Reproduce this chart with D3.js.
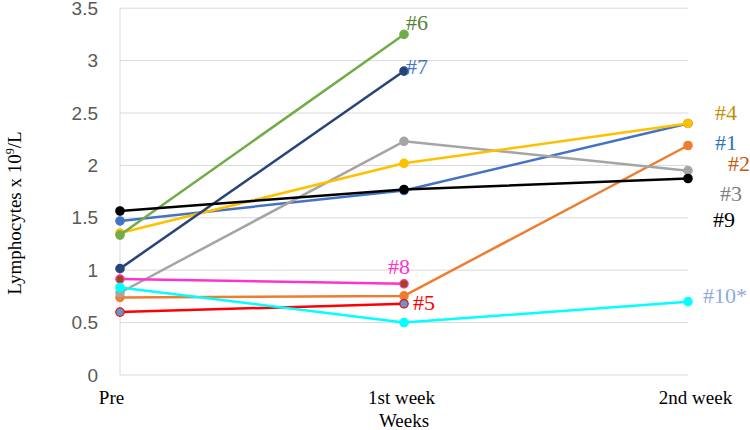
<!DOCTYPE html>
<html>
<head>
<meta charset="utf-8">
<script src="https://cdn.jsdelivr.net/npm/d3@7"></script>
<style>
  html, body { margin: 0; padding: 0; background: #fff; }
  svg { display: block; }
</style>
</head>
<body>
<svg id="chart" width="750" height="430"></svg>
<script>
// ---- data ----
const categories = ["Pre", "1st week", "2nd week"];
const yTicks = [0, 0.5, 1, 1.5, 2, 2.5, 3, 3.5];
const seriesNames = ["#1", "#2", "#3", "#4", "#5", "#6", "#7", "#8", "#9", "#10*"];
const s1 = [1.47, 1.76, 2.40];
const s2 = [0.74, 0.755, 2.19];
const s3 = [0.785, 2.23, 1.95];
const s4 = [1.355, 2.02, 2.40];
const s5 = [0.60, 0.68, null];
const s6 = [1.335, 3.25, null];
const s7 = [1.015, 2.90, null];
const s8 = [0.915, 0.87, null];
const s9 = [1.565, 1.77, 1.875];
const s10 = [0.835, 0.50, 0.70];
const seriesValues = [s1, s2, s3, s4, s5, s6, s7, s8, s9, s10];

// ---- styles ----
const lineColors = ["#4472C4", "#ED7D31", "#A5A5A5", "#FFC000", "#FF0000", "#70AD47", "#264478", "#FF33CC", "#000000", "#00FFFF"];
const markerFill = ["#4472C4", "#ED7D31", "#A5A5A5", "#FFC000", "#5B9BD5", "#70AD47", "#264478", "#9E480E", "#000000", "#00FFFF"];
const labelColors = ["#2E75B6", "#C55A11", "#7F7F7F", "#BF9000", "#FF0000", "#548235", "#4472C4", "#FF33CC", "#000000", "#8FAADC"];
// label offset from the last point of each series (px)
const labelOffset = [[27, 27], [40, 26], [32, 30], [27, -3], [9, 6], [2, -4], [2, 3], [-16, -10], [25, 48], [15, 1]];
const catLabelDx = [-9, -3, 7];

const svg = d3.select("#chart");
const x = d3.scalePoint().domain(categories).range([120, 688]);
const y = d3.scaleLinear().domain([0, 3.5]).range([375, 8.2]);

// gridlines
svg.append("g").selectAll("line").data(yTicks).join("line")
  .attr("x1", 120).attr("x2", 688)
  .attr("y1", d => y(d)).attr("y2", d => y(d))
  .attr("stroke", "#D9D9D9").attr("stroke-width", 1);

// vertical axis line
svg.append("line").attr("x1", 120).attr("x2", 120)
  .attr("y1", y(0)).attr("y2", y(3.5))
  .attr("stroke", "#D9D9D9").attr("stroke-width", 1);

// y axis ticks (labels)
const yAxis = d3.axisLeft(y).tickValues(yTicks).tickSize(0).tickPadding(22)
  .tickFormat(d => String(d));
const gy = svg.append("g").attr("transform", "translate(120,0)").call(yAxis);
gy.select(".domain").remove();
gy.selectAll("text").attr("fill", "#595959")
  .style("font-family", "'Liberation Sans', Arial, sans-serif").style("font-size", "19px");

// x axis labels
const xAxis = d3.axisBottom(x).tickSize(0).tickPadding(0);
const gx = svg.append("g").attr("transform", "translate(0,375)").call(xAxis);
gx.select(".domain").remove();
gx.selectAll("text")
  .attr("fill", "#000").attr("dy", null).attr("y", 29)
  .attr("dx", (d, i) => catLabelDx[i])
  .style("font-family", "'Liberation Serif', 'Times New Roman', serif").style("font-size", "19px");

// axis titles
svg.append("text").attr("x", 404).attr("y", 427).attr("text-anchor", "middle")
  .style("font-family", "'Liberation Serif', 'Times New Roman', serif").style("font-size", "19px")
  .text("Weeks");
const yt = svg.append("text").attr("transform", "translate(21,213) rotate(-90)")
  .attr("text-anchor", "middle")
  .style("font-family", "'Liberation Serif', 'Times New Roman', serif").style("font-size", "19px");
yt.append("tspan").text("Lymphocytes x 10");
yt.append("tspan").attr("dy", -7).style("font-size", "12px").text("9");
yt.append("tspan").attr("dy", 7).text("/L");

// series
const line = d3.line().defined(d => d.v != null).x(d => x(d.c)).y(d => y(d.v));
seriesValues.forEach((vals, i) => {
  const pts = vals.map((v, j) => ({ c: categories[j], v })).filter(d => d.v != null);
  const g = svg.append("g");
  g.append("path").datum(pts).attr("d", line)
    .attr("fill", "none").attr("stroke", lineColors[i]).attr("stroke-width", 2.5)
    .attr("stroke-linejoin", "round");
  g.selectAll("circle").data(pts).join("circle")
    .attr("cx", d => x(d.c)).attr("cy", d => y(d.v)).attr("r", 4.2)
    .attr("fill", markerFill[i]).attr("stroke", lineColors[i]).attr("stroke-width", 1.2);
});

// series labels
seriesValues.forEach((vals, i) => {
  const pts = vals.map((v, j) => ({ c: categories[j], v })).filter(d => d.v != null);
  const last = pts[pts.length - 1];
  svg.append("text")
    .attr("x", x(last.c) + labelOffset[i][0])
    .attr("y", y(last.v) + labelOffset[i][1])
    .attr("fill", labelColors[i])
    .style("font-family", "'Liberation Serif', 'Times New Roman', serif").style("font-size", "22px")
    .text(seriesNames[i]);
});
</script>
</body>
</html>
